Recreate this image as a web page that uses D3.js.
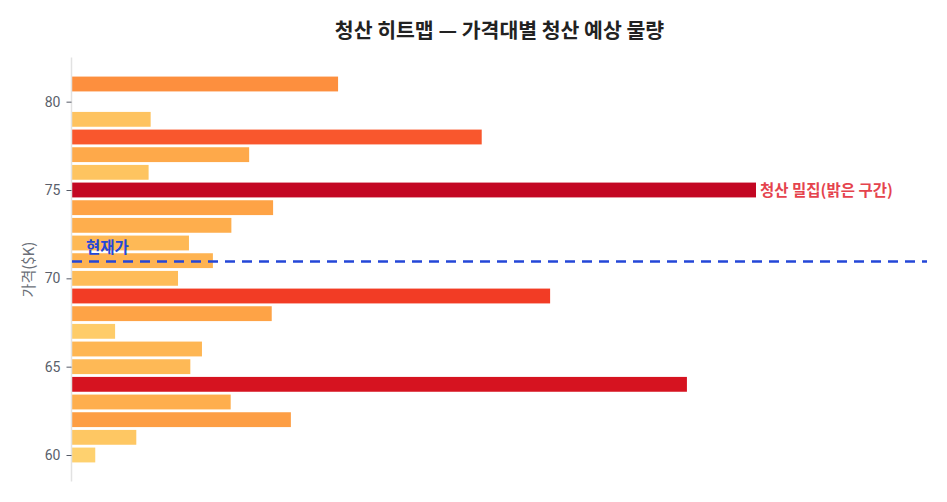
<!DOCTYPE html>
<html><head><meta charset="utf-8">
<script src="https://cdn.jsdelivr.net/npm/d3@7"></script>
<style>
body{margin:0;background:#fff;}
svg{font-family:"Noto Sans CJK KR","Noto Sans",sans-serif;}
</style></head>
<body><svg id="c" width="947" height="502"></svg>
<script>
(function(){
const prices = [60,61,62,63,64,65,66,67,68,69,70,71,72,73,74,75,76,77,78,79,80,81];
const volumes = [3.4,9.4,32.0,23.2,89.9,17.3,19.0,6.3,29.2,69.9,15.5,20.6,17.1,23.3,29.4,100,11.2,25.9,59.9,11.5,0,38.9];
const yTicks = [60,65,70,75,80];
const currentPrice = 70.95;
const titleText = "청산 히트맵 — 가격대별 청산 예상 물량";
const yLabel = "가격($K)";
const currentLabel = "현재가";
const denseLabel = "청산 밀집(밝은 구간)";

const svg = d3.select("#c");
const L = 72, R = 927, T = 57.5, B = 481.5;
const maxV = d3.max(volumes);
const x = d3.scaleLinear().domain([0, maxV*1.25]).range([L, R]);
const y = d3.scaleLinear().domain([58.5, 82.5]).range([B, T]);
const color = v => d3.interpolateYlOrRd(0.25 + 0.6*v/maxV);

svg.append("text").attr("x", (L+R)/2).attr("y", 38).attr("text-anchor","middle")
  .attr("font-size", 20.5).attr("font-weight", 700).attr("fill", "#222").text(titleText);

const data = prices.map((p,i)=>({p, v: volumes[i]}));
svg.append("g").selectAll("rect").data(data.filter(d=>d.v>0)).join("rect")
  .attr("x", x(0)).attr("y", d=>y(d.p+0.42))
  .attr("width", d=>x(d.v)-x(0)).attr("height", d=>y(d.p-0.42)-y(d.p+0.42))
  .attr("fill", d=>color(d.v));

const ax = svg.append("g").attr("transform", `translate(${L-0.5},0)`)
  .call(d3.axisLeft(y).tickValues(yTicks).tickSize(5).tickPadding(6));
ax.select(".domain").attr("stroke", "#e2e2e2").attr("stroke-width", 1.5).attr("d", `M0,${T}V${B}`);
ax.selectAll(".tick line").attr("stroke", "#555a66");
ax.selectAll(".tick text").attr("fill", "#5a5f6b").attr("font-size", 14).attr("font-family", "Roboto, 'Noto Sans', sans-serif");

svg.append("text").attr("transform", `translate(34,${(T+B)/2}) rotate(-90)`)
  .attr("text-anchor","middle").attr("font-size", 15).attr("fill", "#6b6f78").text(yLabel);

svg.append("line").attr("x1", L).attr("x2", R).attr("y1", y(currentPrice)).attr("y2", y(currentPrice))
  .attr("stroke", "#2447d8").attr("stroke-width", 2.5).attr("stroke-dasharray", "10,7");
svg.append("text").attr("x", L+14).attr("y", y(currentPrice)-9).attr("font-size", 15.5)
  .attr("font-weight", 700).attr("fill", "#2447d8").text(currentLabel);

const peak = data.find(d=>d.v===maxV);
svg.append("text").attr("x", x(peak.v)+4).attr("y", y(peak.p)+5.5).attr("font-size", 15.5)
  .attr("font-weight", 700).attr("fill", "#e5434d").text(denseLabel);
})();
</script></body></html>
